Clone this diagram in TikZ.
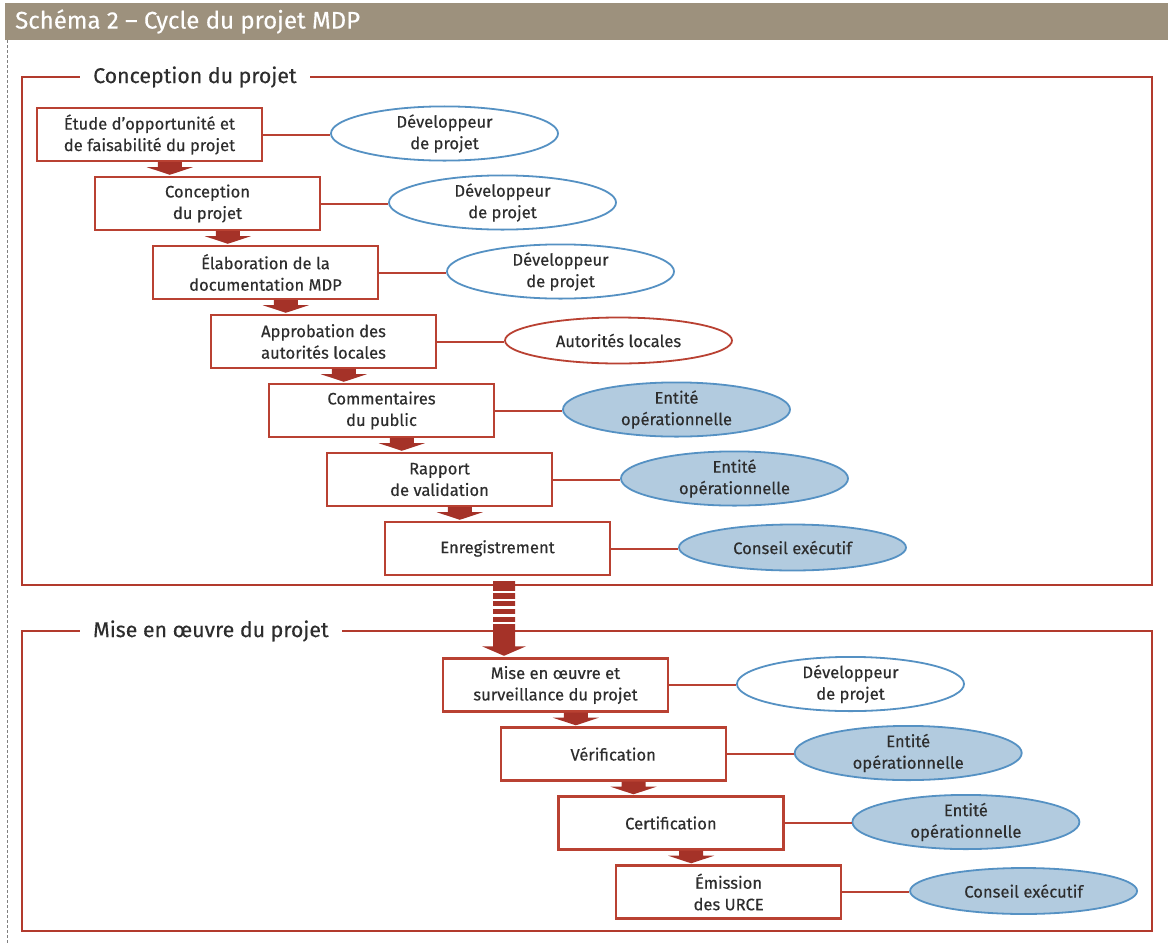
\documentclass[tikz,border=0pt]{standalone}
\usepackage{fontspec}
\setmainfont{Fira Sans}[FakeBold=0.35]
\usetikzlibrary{shapes.geometric,calc}
\definecolor{boxred}{RGB}{185,65,50}
\definecolor{arrred}{RGB}{165,50,40}
\definecolor{framered}{RGB}{178,58,45}
\definecolor{blueline}{RGB}{85,145,195}
\definecolor{bluefill}{RGB}{178,203,223}
\definecolor{titlebar}{RGB}{157,145,125}
\definecolor{txt}{RGB}{45,45,45}
\tikzset{
  stepbox/.style={draw=boxred, line width=2.4pt, fill=white, minimum width=225pt, minimum height=53pt, inner sep=0pt, align=center, text=txt, font=\fontsize{16.6}{21.5}\selectfont},
  actor/.style={ellipse, line width=1.8pt, minimum width=227pt, minimum height=46pt, inner sep=0pt, align=center, text=txt, font=\fontsize{16.6}{21.5}\selectfont},
  devel/.style={actor, draw=blueline, fill=white},
  local/.style={actor, draw=boxred, fill=white},
  entity/.style={actor, draw=blueline, fill=bluefill},
  link/.style={draw=boxred, line width=2pt},
  frame/.style={draw=framered, line width=2pt},
  frametitle/.style={fill=white, inner xsep=13pt, inner ysep=2pt, anchor=west, text=txt, font=\fontsize{21.3}{25}\selectfont}
}
\begin{document}
\begin{tikzpicture}[x=1pt,y=-1pt]
\useasboundingbox (0,0) rectangle (1168,943);
% title bar
\fill[titlebar] (5,3) rectangle (1168,40);
\node[anchor=west, text=white, font=\fontsize{24}{28}\selectfont, inner sep=0pt] (title) at (15,21.5) {Schéma 2 – Cycle du projet MDP};
\draw[gray, line width=0.8pt, dash pattern=on 3pt off 2pt] (7,40) -- (7,943);
% frames
\draw[frame] (22,77) rectangle (1152,585);
\draw[frame] (22,631) rectangle (1152,931);
\node[frametitle] (t1) at (80,77) {Conception du projet};
\node[frametitle] (t2) at (80,631) {Mise en œuvre du projet};
% upper steps
\node[stepbox] (b1) at (149.5,134.5) {Étude d’opportunité et\\de faisabilité du projet};
\node[stepbox] (b2) at (207.5,203.5) {Conception\\du projet};
\node[stepbox] (b3) at (265.5,272.5) {Élaboration de la\\documentation MDP};
\node[stepbox] (b4) at (323.5,341.5) {Approbation des\\autorités locales};
\node[stepbox] (b5) at (381.5,410.5) {Commentaires\\du public};
\node[stepbox] (b6) at (439.5,479.5) {Rapport\\de validation};
\node[stepbox] (b7) at (497.5,548.5) {Enregistrement};
% lower steps
\node[stepbox] (b8) at (555.5,685) {Mise en œuvre et\\surveillance du projet};
\node[stepbox] (b9) at (613.2,754) {Vérification};
\node[stepbox] (b10) at (670.9,823) {Certification};
\node[stepbox] (b11) at (728.6,892) {Émission\\des URCE};
% actors
\node[devel] (e1) at (444.5,133.5) {Développeur\\de projet};
\node[devel] (e2) at (502.5,202.5) {Développeur\\de projet};
\node[devel] (e3) at (560.5,271.5) {Développeur\\de projet};
\node[local] (e4) at (618.5,340.5) {Autorités locales};
\node[entity] (e5) at (676.5,409.5) {Entité\\opérationnelle};
\node[entity] (e6) at (734.5,478.5) {Entité\\opérationnelle};
\node[entity] (e7) at (792.5,547.5) {Conseil exécutif};
\node[devel] (e8) at (850.5,684) {Développeur\\de projet};
\node[entity] (e9) at (908.2,753) {Entité\\opérationnelle};
\node[entity] (e10) at (965.9,822) {Entité\\opérationnelle};
\node[entity] (e11) at (1023.6,891) {Conseil exécutif};
% links
\foreach \i in {1,...,11} {\draw[link] (b\i.east) -- (b\i.east -| e\i.west);}
% small flow arrows
\foreach \a/\b in {1/2,2/3,3/4,4/5,5/6,6/7,8/9,9/10,10/11} {
  \path ($(b\a.south west)+(134,0)$) coordinate (s\a);
  \path (s\a |- b\b.north) coordinate (t\a);
  \fill[arrred] ($(s\a)+(-12,0)$) -- ($(s\a)+(12,0)$) -- ($(s\a)+(12,5)$) -- ($(s\a)+(23,5)$)
     -- ($(t\a)+(0,-1)$) -- ($(s\a)+(-23,5)$) -- ($(s\a)+(-12,5)$) -- cycle;
}
% big arrow between phases
\path ($(b7.south)+(6.5,5)$) coordinate (bs);
\path (bs |- b8.north) coordinate (bt);
\fill[arrred] ($(bs)+(-11,0)$) -- ($(bs)+(11,0)$) -- ($(bt)+(11,-11)$) -- ($(bt)+(22,-11)$)
   -- ($(bt)+(0,-1.5)$) -- ($(bt)+(-22,-11)$) -- ($(bt)+(-11,-11)$) -- cycle;
\foreach \yy in {592,600,607.7,615.3,622.8} {
  \draw[white, line width=2.6pt] ($(bs |- 0,\yy)+(-12,0)$) -- ($(bs |- 0,\yy)+(12,0)$);
}
\end{tikzpicture}
\end{document}
